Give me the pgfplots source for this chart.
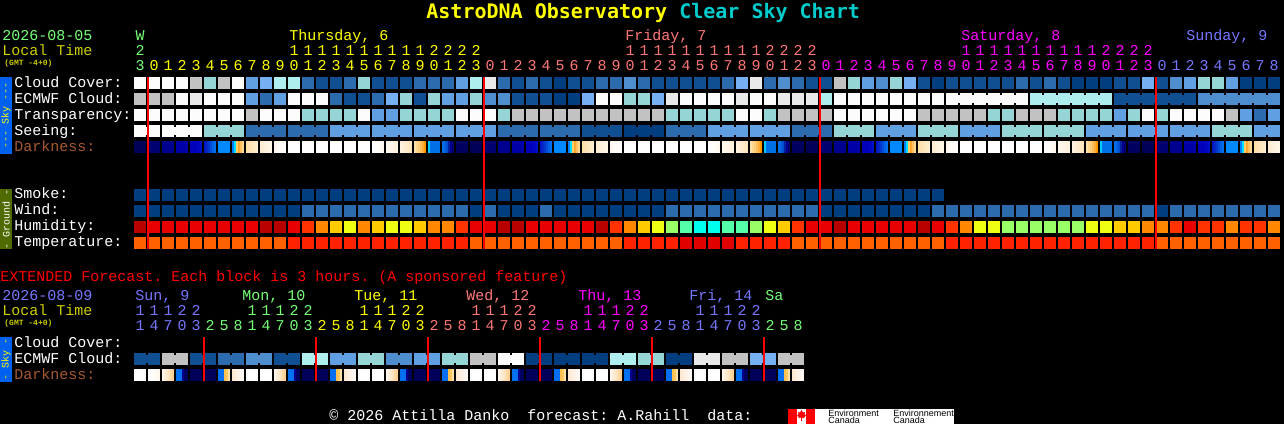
\documentclass[border=0pt]{standalone}
\usepackage{fontspec}
\usepackage{pgfplots}
\usepackage{pgfplotstable}
\pgfplotsset{compat=1.18}
\setmainfont{Liberation Mono}
\newfontfamily\titlefont{DejaVu Sans Mono}
\newfontfamily\logofont{Liberation Sans}

% sky palette (cloud, transparency, seeing share it)
\definecolor{lv0}{HTML}{003E80}
\definecolor{lv1}{HTML}{0F4F92}
\definecolor{lv2}{HTML}{2C6CAE}
\definecolor{lv3}{HTML}{4E8ECF}
\definecolor{lv4}{HTML}{5F9FE2}
\definecolor{lv5}{HTML}{74B0F2}
\definecolor{lv6}{HTML}{AEEEEE}
\definecolor{lv7}{HTML}{96D5D5}
\definecolor{lv8}{HTML}{C2C2C2}
\definecolor{lv9}{HTML}{E9E9E9}
\definecolor{lv10}{HTML}{FCFCFC}
% humidity
\definecolor{hm0}{HTML}{B80000}
\definecolor{hm1}{HTML}{E60000}
\definecolor{hm2}{HTML}{FF3300}
\definecolor{hm3}{HTML}{FF8800}
\definecolor{hm4}{HTML}{FFCC00}
\definecolor{hm5}{HTML}{EEFF11}
\definecolor{hm6}{HTML}{99FF66}
\definecolor{hm7}{HTML}{55FFAA}
\definecolor{hm8}{HTML}{00FFEE}
% temperature
\definecolor{tp0}{HTML}{E00000}
\definecolor{tp1}{HTML}{FF2200}
\definecolor{tp2}{HTML}{FF6000}
% text
\definecolor{dgreen}{HTML}{77FF77}
\definecolor{dyellow}{HTML}{FFFF00}
\definecolor{dpink}{HTML}{FF7777}
\definecolor{dmag}{HTML}{FF00FF}
\definecolor{dviolet}{HTML}{7777FF}
\definecolor{localt}{HTML}{CCCC00}
\definecolor{darkl}{HTML}{A5592E}
\definecolor{chartc}{HTML}{00CCCC}
\definecolor{skybar}{HTML}{0060F0}
\definecolor{gndbar}{HTML}{4F6A00}

% 1 px of the chart is 0.5pt
\pgfdeclareplotmark{cell}{\pgfpathrectangle{\pgfqpoint{-3pt}{-3pt}}{\pgfqpoint{6pt}{6pt}}\pgfusepathqfill}
\pgfdeclareplotmark{bridge}{\pgfpathrectangle{\pgfqpoint{-0.5pt}{-2pt}}{\pgfqpoint{1pt}{4pt}}\pgfusepathqfill}
% midnight lines are marks too, marks are painted over the plot paths
\pgfdeclareplotmark{midlong}{\pgfpathrectangle{\pgfqpoint{-0.5pt}{-43pt}}{\pgfqpoint{1pt}{86pt}}\pgfusepathqfill}
\pgfdeclareplotmark{midshort}{\pgfpathrectangle{\pgfqpoint{-0.5pt}{-11pt}}{\pgfqpoint{1pt}{22pt}}\pgfusepathqfill}
% darkness cells shade across the block: six stripes of 2px
\newcommand\stripe[3]{\definecolor{stp}{HTML}{#3}\pgfsetfillcolor{stp}%
  \pgfpathrectangle{\pgfqpoint{#1pt}{-3pt}}{\pgfqpoint{#2pt}{6pt}}\pgfusepathqfill}
\newcommand\gradmark[7]{\pgfdeclareplotmark{#1}{\stripe{-3}{6}{#2}\stripe{-2}{5}{#3}\stripe{-1}{4}{#4}\stripe{0}{3}{#5}\stripe{1}{2}{#6}\stripe{2}{1}{#7}}}
\gradmark{g0}{000058}{000058}{000058}{000058}{000058}{000058}
\gradmark{g1}{000070}{000070}{000070}{000070}{000070}{000070}
\gradmark{g2}{000090}{000090}{000090}{000090}{000090}{000090}
\gradmark{g3}{0000A8}{0000A8}{0000A8}{0000A8}{0000A8}{0000A8}
\gradmark{g4}{0000B8}{0000B8}{0000BC}{0000C0}{0008C4}{0010C8}
\gradmark{g5}{0018C4}{0028C8}{0038D0}{0050DC}{0060E4}{0070EC}
\gradmark{g6}{0088FF}{0088FF}{0088FF}{0088FF}{0088FF}{0088FF}
\gradmark{g7}{0080FF}{00DDFF}{FFCC66}{FFA830}{FFC060}{FFD890}
\gradmark{g8}{FFDFA8}{FFE2B0}{FFE5B8}{FFE8C0}{FFEAC6}{FFECCC}
\gradmark{g9}{FFEDD0}{FFEFD6}{FFF1DC}{FFF3E0}{FFF5E4}{FFF6E8}
\gradmark{g10}{FFF8F0}{FFFAF4}{FFFBF7}{FFFCF9}{FFFEFC}{FFFFFF}
\gradmark{g11}{FFFFFF}{FFFFFF}{FFFFFF}{FFFFFF}{FFFFFF}{FFFFFF}
\gradmark{g17}{FFFFFF}{FFFEFC}{FFFCF9}{FFFBF6}{FFFAF3}{FFF8F0}
\gradmark{g18}{FFF8F0}{FFF6EC}{FFF4E8}{FFF3E4}{FFF1E0}{FFF0DD}
\gradmark{g19}{FFF2E0}{FFEFD8}{FFECD0}{FFEACA}{FFE8C4}{FFE5C0}
\gradmark{g20}{FFE0A8}{FFD890}{FFCC78}{FFC060}{FFAE3C}{FF9900}
\gradmark{g21}{00CCFF}{0070E8}{0070E8}{0070E8}{0070E8}{0070E8}
\gradmark{g22}{0070E8}{0060E0}{0050D0}{0020A0}{000088}{000070}
\gradmark{g23}{000060}{000060}{000060}{000060}{000060}{000060}
\gradmark{g31}{FFFFFF}{FFFFFF}{FFFDFA}{FFFBF6}{FFF9F2}{FFF6EC}
\gradmark{g32}{FFF4E8}{FFEEDA}{FFE8CC}{FFE2BC}{FFDAA8}{FFD090}
\gradmark{g33}{0070F0}{0070F0}{0070F0}{000090}{000060}{000060}
\gradmark{g36}{0070F0}{0070F0}{0070F0}{FFC050}{FFC860}{FFE0A8}
\gradmark{g37}{FFE8D0}{FFEDDA}{FFF0E2}{FFF3E8}{FFF6EE}{FFF8F4}

% hourly forecast, one line per hour from Wed 23h
\pgfplotstableread{
cloud ecmwf transp seeing dark smoke wind humid temp
10 8 10 10 0 0 0 0 2
10 8 10 10 1 0 0 1 2
10 8 10 10 2 0 0 1 2
10 10 10 10 3 0 0 1 2
8 9 10 10 4 0 0 1 2
7 10 10 7 5 0 0 1 2
8 10 10 7 6 0 0 1 2
10 10 10 7 7 0 0 1 2
4 4 8 2 8 0 0 1 2
5 2 10 2 9 0 0 0 2
6 4 10 2 10 0 0 0 2
6 10 10 2 11 0 0 1 1
2 10 7 2 11 0 2 2 1
1 10 7 2 11 0 2 3 1
1 2 7 4 11 0 2 4 1
2 1 7 4 11 0 2 5 1
7 1 10 4 11 0 2 3 1
1 2 4 4 17 0 2 4 1
1 5 4 4 18 0 2 5 1
1 7 7 4 19 0 2 5 1
2 1 7 4 20 0 2 4 1
2 7 7 4 21 0 2 3 1
2 4 7 4 22 0 2 3 1
4 4 10 4 23 0 2 2 1
6 7 10 4 0 0 0 1 2
9 3 10 4 1 0 2 1 2
2 3 7 2 2 0 0 0 2
1 1 8 2 3 0 0 0 2
2 1 8 2 4 0 0 1 2
1 1 8 2 5 0 2 1 2
0 0 8 2 6 0 0 1 2
1 0 8 2 7 0 0 1 2
1 5 8 1 8 0 0 1 2
2 10 8 1 9 0 0 0 2
2 10 8 1 10 0 0 2 2
3 7 8 0 11 0 0 3 1
2 7 8 0 11 0 0 4 1
1 5 8 0 11 0 0 5 1
1 9 7 2 11 0 2 6 1
1 10 7 2 11 0 2 7 0
1 10 7 2 11 0 2 8 0
1 10 7 4 17 0 2 8 0
2 10 7 4 18 0 2 7 0
5 9 10 4 19 0 2 7 1
9 10 10 4 20 0 2 6 1
2 10 7 4 21 0 2 5 1
3 9 8 4 22 0 2 4 1
2 9 8 2 23 0 2 2 2
1 9 8 2 0 0 2 1 2
1 6 8 2 1 0 0 1 2
8 10 10 7 2 0 0 0 2
7 10 10 7 3 0 0 1 2
4 10 10 7 4 0 0 1 2
3 10 10 4 5 0 0 1 2
7 10 10 4 6 0 0 1 2
5 10 10 4 7 0 0 1 2
1 10 8 7 8 0 0 0 2
0 10 8 7 9 0 2 1 2
1 10 8 7 10 0 2 2 1
1 10 8 4 11 0 2 3 1
1 10 8 4 11 0 2 5 1
1 10 7 4 11 0 2 5 1
1 10 7 7 11 0 2 6 1
2 10 8 7 11 0 2 6 1
1 6 8 7 11 0 2 6 1
2 6 8 7 17 0 2 6 1
1 6 7 7 18 0 2 6 1
0 6 7 7 19 0 2 6 1
0 6 7 4 20 0 2 5 1
0 6 7 4 21 0 2 5 1
1 1 4 4 22 0 2 4 1
1 1 7 4 23 0 2 4 1
5 1 10 4 0 0 2 3 1
1 1 7 4 1 0 0 3 2
3 1 10 4 2 0 2 2 2
4 1 10 4 3 0 2 1 2
7 3 10 4 4 0 2 2 2
7 3 10 7 5 0 2 2 2
4 3 8 7 6 0 2 3 2
0 3 4 7 7 0 2 2 2
0 3 2 4 8 0 2 2 2
0 3 4 4 9 0 2 3 2
}\hourly

% extended forecast, one line per 3 hour block from Sun 11h
\pgfplotstableread{
ecmwf dark
1 11
1 31
8 32
8 33
1 0
1 0
2 36
2 37
3 11
3 11
1 32
1 33
6 0
6 0
4 36
4 37
7 11
7 11
3 32
3 33
4 0
4 0
7 36
7 37
8 11
8 11
10 32
10 33
0 0
0 0
0 36
0 37
0 11
0 11
6 32
6 33
7 0
7 0
0 36
0 37
9 11
9 11
8 32
8 33
5 0
5 0
8 36
8 37
}\threehour

% a row of blocks: table, column, colour prefix, y, levels
\newcommand\blockrow[5]{\pgfplotsinvokeforeach{#5}{%
  \addplot[only marks, mark=cell, color=#3##1, forget plot]
    table[x expr=140+14*\coordindex, y expr={\thisrow{#2}==##1 ? #4 : nan}] {#1};}}
% darkness row: table, y, mark numbers
\newcommand\darkrow[3]{\pgfplotsinvokeforeach{#3}{%
  \addplot[only marks, mark=g##1, forget plot]
    table[x expr=140+14*\coordindex, y expr={\thisrow{dark}==##1 ? #2 : nan}] {#1};}}
% narrow joins of blocks: table, column, y, period, index with no join, xlow, xhigh
\newcommand\joinrow[7]{\pgfplotsinvokeforeach{0,1,2,3,4,5,6,7,8,9,10}{%
  \addplot[only marks, mark=bridge, color=lv##1, forget plot, restrict x to domain=#6:#7]
    table[x expr=147+14*\coordindex, y expr={mod(\coordindex,#4)==#5 ? nan : (\thisrow{#2}==##1 ? #3 : nan)}] {#1};}}

\tikzset{
  lab/.style={anchor=base west, inner sep=0pt, font=\fontsize{7.5}{9}\selectfont},
  dig/.style={anchor=base, inner sep=0pt, font=\fontsize{7.5}{9}\selectfont},
  tiny/.style={anchor=base west, inner sep=0pt, font=\fontsize{4}{5}\selectfont\bfseries},
  bar/.style={inner sep=0pt, rotate=90, font=\fontsize{5}{6}\selectfont},
}
% one digit per block: colour, first block, baseline, digits
\newcommand\digits[4]{\foreach \d [count=\i from 0] in {#4} {%
  \pgfmathtruncatemacro\xx{140+14*(#2+\i)}%
  \edef\tmp{\noexpand\node[dig,text=#1] at (axis cs:\xx,#3) {\d};}\tmp}}

\begin{document}
\frenchspacing
\begin{tikzpicture}
\begin{axis}[
  scale only axis, width=642pt, height=212pt,
  xmin=0, xmax=1284, ymin=0, ymax=424, y dir=reverse,
  axis line style={draw=none}, xtick=\empty, ytick=\empty,
  axis background/.style={fill=black},
  clip=false,
]
% hourly sky rows
\blockrow{\hourly}{cloud}{lv}{83}{0,1,2,3,4,5,6,7,8,9,10}
\blockrow{\hourly}{ecmwf}{lv}{99}{0,1,2,3,4,5,6,7,8,9,10}
\blockrow{\hourly}{transp}{lv}{115}{2,4,7,8,10}
\blockrow{\hourly}{seeing}{lv}{131}{0,1,2,4,7,10}
\darkrow{\hourly}{147}{0,1,2,3,4,5,6,7,8,9,10,11,17,18,19,20,21,22,23}
% ground rows
\addplot[only marks, mark=cell, color=lv0, forget plot, restrict x to domain=0:940] table[x expr=140+14*\coordindex, y expr=195] {\hourly};
\blockrow{\hourly}{wind}{lv}{211}{0,2}
\blockrow{\hourly}{humid}{hm}{227}{0,1,2,3,4,5,6,7,8}
\blockrow{\hourly}{temp}{tp}{243}{0,1,2}
% seeing comes in 3h blocks, long range ecmwf in 6h blocks
\joinrow{\hourly}{seeing}{131}{3}{1}{0}{1276}
\joinrow{\hourly}{ecmwf}{99}{6}{3}{958}{1276}
% extended
\blockrow{\threehour}{ecmwf}{lv}{359}{0,1,2,3,4,5,6,7,8,9,10}
\darkrow{\threehour}{375}{0,11,31,32,33,36,37}
\joinrow{\threehour}{ecmwf}{359}{2}{1}{0}{1276}
% midnight lines
\addplot[only marks, mark=midlong, color=red, forget plot] coordinates {(148,163) (484,163) (820,163) (1156,163)};
\addplot[only marks, mark=midshort, color=red, forget plot] coordinates {(204,359) (316,359) (428,359) (540,359) (652,359) (764,359)};

% title
\node[anchor=base west,inner sep=0pt,font=\fontsize{10}{12}\selectfont\titlefont\bfseries] at (axis cs:426,18) {\textcolor{dyellow}{AstroDNA Observatory} \textcolor{chartc}{Clear Sky Chart}};

% hourly header
\node[lab,text=dgreen] at (axis cs:2,40) {2026-08-05};
\node[lab,text=localt] at (axis cs:2,55) {Local Time};
\node[tiny,text=localt] at (axis cs:4,65) {(GMT -4+0)};
\node[dig,text=dgreen] at (axis cs:140,40) {W};
\node[lab,text=dyellow] at (axis cs:289,40) {Thursday, 6};
\node[lab,text=dpink] at (axis cs:625,40) {Friday, 7};
\node[lab,text=dmag] at (axis cs:961,40) {Saturday, 8};
\node[lab,text=dviolet] at (axis cs:1186,40) {Sunday, 9};
\digits{dgreen}{0}{55}{2}
\digits{dyellow}{11}{55}{1,1,1,1,1,1,1,1,1,1,2,2,2,2}
\digits{dpink}{35}{55}{1,1,1,1,1,1,1,1,1,1,2,2,2,2}
\digits{dmag}{59}{55}{1,1,1,1,1,1,1,1,1,1,2,2,2,2}
\digits{dgreen}{0}{70}{3}
\digits{dyellow}{1}{70}{0,1,2,3,4,5,6,7,8,9,0,1,2,3,4,5,6,7,8,9,0,1,2,3}
\digits{dpink}{25}{70}{0,1,2,3,4,5,6,7,8,9,0,1,2,3,4,5,6,7,8,9,0,1,2,3}
\digits{dmag}{49}{70}{0,1,2,3,4,5,6,7,8,9,0,1,2,3,4,5,6,7,8,9,0,1,2,3}
\digits{dviolet}{73}{70}{0,1,2,3,4,5,6,7,8}

% row labels
\node[lab,text=white] at (axis cs:14,87) {Cloud Cover:};
\node[lab,text=white] at (axis cs:14,103) {ECMWF Cloud:};
\node[lab,text=white] at (axis cs:14,119) {Transparency:};
\node[lab,text=white] at (axis cs:14,135) {Seeing:};
\node[lab,text=darkl] at (axis cs:14,151) {Darkness:};
\node[lab,text=white] at (axis cs:14,198) {Smoke:};
\node[lab,text=white] at (axis cs:14,214) {Wind:};
\node[lab,text=white] at (axis cs:14,230) {Humidity:};
\node[lab,text=white] at (axis cs:14,246) {Temperature:};

% side bars
\fill[skybar] (axis cs:0,77) rectangle (axis cs:12,154);
\node[bar,text=dyellow] at (axis cs:6,115.5) {-{}-{}- Sky -{}-{}-};
\fill[gndbar] (axis cs:0,189) rectangle (axis cs:12,249);
\node[bar,text=white] at (axis cs:6,219) {- Ground -};
\fill[skybar] (axis cs:0,337) rectangle (axis cs:12,382);
\node[bar,text=dyellow] at (axis cs:6,359.5) {- Sky -};

% extended header
\node[lab,text=red] at (axis cs:0,281) {EXTENDED Forecast. Each block is 3 hours. (A sponsored feature)};
\node[lab,text=dviolet] at (axis cs:2,300) {2026-08-09};
\node[lab,text=localt] at (axis cs:2,315) {Local Time};
\node[tiny,text=localt] at (axis cs:4,325) {(GMT -4+0)};
\node[lab,text=dviolet] at (axis cs:135,300) {Sun, 9};
\node[lab,text=dgreen] at (axis cs:242,300) {Mon, 10};
\node[lab,text=dyellow] at (axis cs:354,300) {Tue, 11};
\node[lab,text=dpink] at (axis cs:466,300) {Wed, 12};
\node[lab,text=dmag] at (axis cs:578,300) {Thu, 13};
\node[lab,text=dviolet] at (axis cs:689,300) {Fri, 14};
\node[lab,text=dgreen] at (axis cs:765,300) {Sa};
\digits{dviolet}{0}{315}{1,1,1,2,2}
\digits{dgreen}{8}{315}{1,1,1,2,2}
\digits{dyellow}{16}{315}{1,1,1,2,2}
\digits{dpink}{24}{315}{1,1,1,2,2}
\digits{dmag}{32}{315}{1,1,1,2,2}
\digits{dviolet}{40}{315}{1,1,1,2,2}
\digits{dviolet}{0}{330}{1,4,7,0,3}
\digits{dgreen}{5}{330}{2,5,8,1,4,7,0,3}
\digits{dyellow}{13}{330}{2,5,8,1,4,7,0,3}
\digits{dpink}{21}{330}{2,5,8,1,4,7,0,3}
\digits{dmag}{29}{330}{2,5,8,1,4,7,0,3}
\digits{dviolet}{37}{330}{2,5,8,1,4,7,0,3}
\digits{dgreen}{45}{330}{2,5,8}
\node[lab,text=white] at (axis cs:14,347) {Cloud Cover:};
\node[lab,text=white] at (axis cs:14,363) {ECMWF Cloud:};
\node[lab,text=darkl] at (axis cs:14,379) {Darkness:};

% footer
\node[lab,text=white] at (axis cs:329,420) {© 2026 Attilla Danko\ \ forecast: A.Rahill\ \ data:};
\fill[white] (axis cs:788,409) rectangle (axis cs:954,424);
\fill[red] (axis cs:788,409) rectangle (axis cs:797,424);
\fill[red] (axis cs:806,409) rectangle (axis cs:815,424);
\fill[red] (axis cs:801.5,410) -- (axis cs:803,412.5) -- (axis cs:805,412) -- (axis cs:804.5,414.5) -- (axis cs:806,415) -- (axis cs:804,418) -- (axis cs:802,417.5) -- (axis cs:802,421) -- (axis cs:801,421) -- (axis cs:801,417.5) -- (axis cs:799,418) -- (axis cs:797,415) -- (axis cs:798.5,414.5) -- (axis cs:798,412) -- (axis cs:800,412.5) -- cycle;
\node[anchor=base west,inner sep=0pt,text=black,font=\fontsize{4.5}{5}\selectfont\logofont] at (axis cs:828,416) {Environment};
\node[anchor=base west,inner sep=0pt,text=black,font=\fontsize{4.5}{5}\selectfont\logofont] at (axis cs:828,423) {Canada};
\node[anchor=base west,inner sep=0pt,text=black,font=\fontsize{4.5}{5}\selectfont\logofont] at (axis cs:893,416) {Environnement};
\node[anchor=base west,inner sep=0pt,text=black,font=\fontsize{4.5}{5}\selectfont\logofont] at (axis cs:893,423) {Canada};
\end{axis}
\end{tikzpicture}
\end{document}
